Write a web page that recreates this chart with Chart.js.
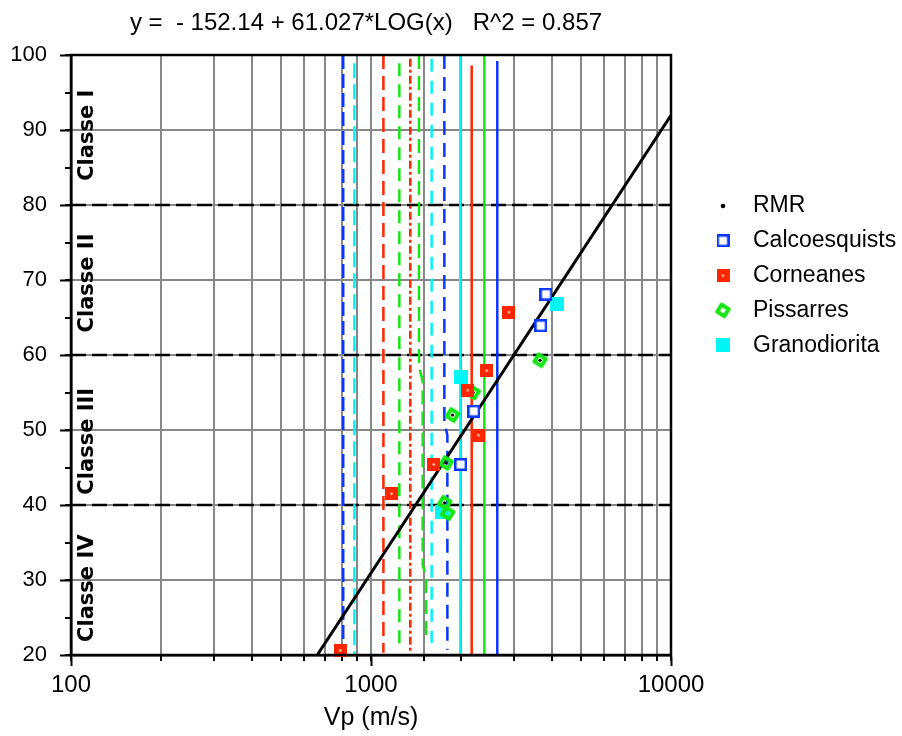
<!DOCTYPE html>
<html>
<head>
<meta charset="utf-8">
<title>Vp - RMR</title>
<script src="https://cdn.jsdelivr.net/npm/chart.js@4.4.1/dist/chart.umd.min.js"></script>
<style>
  html, body { margin: 0; padding: 0; background: #fff; }
  #wrap { width: 902px; height: 736px; }
</style>
</head>
<body>
<div id="wrap"><canvas id="myChart" width="902" height="736"></canvas></div>
<script>
// Vp (m/s) and RMR for each rock type
var calcoVp = [3830, 3680, 2200, 1990];
var calcoRmr = [68.1, 63.9, 52.5, 45.4];
var cornVp = [2880, 2430, 2100, 2280, 1620, 1170, 790];
var cornRmr = [65.7, 57.9, 55.3, 49.3, 45.4, 41.5, 20.6];
var pissVp = [3660, 2190, 1870, 1780, 1760, 1800];
var pissRmr = [59.3, 55.0, 52.0, 45.6, 40.3, 38.9];
var granVp = [4160, 1990, 1720];
var granRmr = [66.8, 57.1, 39.1];

// fitted line  y = -152.14 + 61.027*LOG(x)
var fitVp = [662, 10000];
var fitRmr = [20, 91.97];

// RMR class limits and names
var classLimits = [40, 60, 80];
var classNames = ['Classe I', 'Classe II', 'Classe III', 'Classe IV'];
var classMid = [89.3, 69.6, 48.5, 28.9];

// Vp limit lines (each one is a short polyline)
var limitVp = [
  [808, 808], [880, 880], [1100, 1100], [1243, 1243], [1352, 1352],
  [1445, 1445, 1487, 1487, 1526, 1526], [1593, 1593],
  [1756, 1756, 1797, 1797], [1985, 1985], [2166, 2166], [2387, 2387], [2636, 2636]
];
var limitRmr = [
  [100, 20], [98.9, 20], [100, 20.3], [98.9, 20.5], [99.5, 20.5],
  [100, 58.5, 56.5, 32, 30.5, 21.8], [99.5, 21.6],
  [100, 51, 49.3, 20.7], [100, 20], [98.6, 20], [100, 20], [99.2, 20]
];

var xMajor = [100, 1000, 10000];
var yMin = 20, yMax = 100;

var BLUE = '#0a36ff', RED = '#ff2600', GREEN = '#14e614', CYAN = '#00f5f5', GRAY = '#888888';

var limitColor = [BLUE, CYAN, RED, GREEN, RED, GREEN, CYAN, BLUE, CYAN, RED, GREEN, BLUE];
var limitDash = [[14, 5], [15, 6], [14, 7], [13, 8], [8, 3, 3, 3], [14, 7], [13, 9], [14, 8], [], [], [], []];

// marker pictures
function makeCanvas(w, h) {
  var c = document.createElement('canvas');
  c.width = w; c.height = h;
  return c;
}

var blueMark = makeCanvas(13, 13);
(function () {
  var g = blueMark.getContext('2d');
  g.fillStyle = '#fff'; g.fillRect(0, 0, 13, 13);
  g.strokeStyle = BLUE; g.lineWidth = 2.5; g.strokeRect(1.25, 1.25, 10.5, 10.5);
})();

var redMark = makeCanvas(13, 13);
(function () {
  var g = redMark.getContext('2d');
  g.fillStyle = RED; g.fillRect(0, 0, 13, 13);
  g.fillStyle = '#fff'; g.fillRect(5.5, 5.5, 2, 2);
})();

var cyanMark = makeCanvas(14, 14);
(function () {
  var g = cyanMark.getContext('2d');
  g.fillStyle = CYAN; g.fillRect(0, 0, 14, 14);
})();

var greenMark = makeCanvas(17, 17);
(function () {
  var g = greenMark.getContext('2d');
  g.translate(8.5, 8.5); g.rotate(0.55);
  g.strokeStyle = GREEN; g.lineWidth = 4; g.lineJoin = 'round';
  g.strokeRect(-4.2, -4.2, 8.4, 8.4);
})();

function pts(xs, ys) {
  return xs.map(function (x, i) { return { x: x, y: ys[i] }; });
}

var datasets = [
  { label: 'Calcoesquists', data: pts(calcoVp, calcoRmr), pointStyle: blueMark, pointRadius: 6, order: 1, clip: false },
  { label: 'Corneanes', data: pts(cornVp, cornRmr), pointStyle: redMark, pointRadius: 6, order: 1, clip: false },
  { label: 'Pissarres', data: pts(pissVp, pissRmr), pointStyle: greenMark, pointRadius: 6, order: 1, clip: false },
  { label: 'Granodiorita', data: pts(granVp, granRmr), pointStyle: cyanMark, pointRadius: 6, order: 1, clip: false },
  {
    label: 'RMR',
    data: pts(calcoVp.concat(cornVp, pissVp, granVp), calcoRmr.concat(cornRmr, pissRmr, granRmr)),
    pointStyle: 'circle', pointRadius: 1.6, backgroundColor: '#000', borderWidth: 0, order: 2, clip: false
  },
  {
    label: 'fit', data: pts(fitVp, fitRmr), showLine: true, borderColor: '#000', borderWidth: 3,
    pointRadius: 0, order: 3
  }
];

limitVp.forEach(function (xs, i) {
  datasets.push({
    label: 'limit' + i, data: pts(xs, limitRmr[i]), showLine: true,
    borderColor: limitColor[i], borderWidth: 2.5, borderDash: limitDash[i], pointRadius: 0, order: 4
  });
});

classLimits.forEach(function (v) {
  datasets.push({
    label: 'class' + v, data: pts([xMajor[0], xMajor[2]], [v, v]), showLine: true,
    borderColor: '#000', borderWidth: 2.5, borderDash: [15, 6], pointRadius: 0, order: 5
  });
});

var legendItems = [
  { text: 'RMR', mark: null },
  { text: 'Calcoesquists', mark: blueMark },
  { text: 'Corneanes', mark: redMark },
  { text: 'Pissarres', mark: greenMark },
  { text: 'Granodiorita', mark: cyanMark }
];

var decor = {
  id: 'decor',
  afterDraw: function (chart) {
    var c = chart.ctx, a = chart.chartArea, ys = chart.scales.y;
    c.save();
    // frame
    c.strokeStyle = '#000'; c.lineWidth = 2.5;
    c.strokeRect(a.left, a.top, a.right - a.left, a.bottom - a.top);

    // equation on top
    c.fillStyle = '#000';
    c.font = '24px "Liberation Sans", Arial, sans-serif';
    c.textAlign = 'center'; c.textBaseline = 'middle';
    c.fillText('y =  - 152.14 + 61.027*LOG(x)   R^2 = 0.857', 366, 23);

    // class names
    c.font = 'bold 21px "DejaVu Sans", sans-serif';
    classNames.forEach(function (t, i) {
      c.save();
      c.translate(a.left + 17, ys.getPixelForValue(classMid[i]));
      c.rotate(-Math.PI / 2);
      c.fillText(t, 0, 0);
      c.restore();
    });

    // legend
    c.font = '23px "Liberation Sans", Arial, sans-serif';
    c.textAlign = 'left';
    legendItems.forEach(function (it, i) {
      var y = 206 + i * 34.8;
      if (it.mark) {
        c.drawImage(it.mark, 723 - it.mark.width / 2, y - it.mark.height / 2);
      } else {
        c.beginPath(); c.arc(723, y, 2.3, 0, Math.PI * 2); c.fill();
      }
      c.fillText(it.text, 753, y);
    });
    c.restore();
  }
};

var ctx = document.getElementById('myChart').getContext('2d');
Chart.defaults.font.family = '"Liberation Sans", Arial, sans-serif';
Chart.defaults.color = '#000';

var myChart = new Chart(ctx, {
  type: 'scatter',
  data: { datasets: datasets },
  options: {
    responsive: false,
    animation: false,
    layout: { padding: { top: 55, right: 231, bottom: 0, left: 0 } },
    plugins: { legend: { display: false }, tooltip: { enabled: false } },
    scales: {
      x: {
        type: 'logarithmic', position: 'bottom', weight: 1, min: xMajor[0], max: xMajor[2],
        afterBuildTicks: function (s) { s.ticks = xMajor.map(function (v) { return { value: v, major: true }; }); },
        afterFit: function (s) { s.height = 81; },
        grid: { drawOnChartArea: false, tickLength: 11, tickWidth: 2, tickColor: '#000' },
        border: { color: '#000', width: 2.5 },
        ticks: { autoSkip: false, maxRotation: 0, padding: 5, color: '#000', font: { size: 24 },
          callback: function (v) { return String(v); } },
        title: { display: true, text: 'Vp (m/s)', color: '#000', font: { size: 25 }, padding: { top: 3, bottom: 3 } }
      },
      xMinor: {
        type: 'logarithmic', position: 'bottom', weight: 0, min: xMajor[0], max: xMajor[2],
        afterFit: function (s) { s.height = 0; },
        grid: { color: GRAY, lineWidth: 2, tickLength: 6, tickWidth: 2, tickColor: '#000' },
        border: { display: false },
        ticks: { display: false, autoSkip: false }
      },
      y: {
        type: 'linear', position: 'left', weight: 1, min: yMin, max: yMax,
        afterFit: function (s) { s.width = 71; },
        grid: { drawOnChartArea: false, tickLength: 11, tickWidth: 2, tickColor: '#000' },
        border: { color: '#000', width: 2.5 },
        ticks: { stepSize: 10, padding: 13, color: '#000', font: { size: 22 } }
      },
      yMinor: {
        type: 'linear', position: 'left', weight: 0, min: yMin, max: yMax,
        afterFit: function (s) { s.width = 0; },
        grid: {
          lineWidth: 2, tickLength: 6, tickWidth: 2, tickColor: '#000',
          color: function (c) { return c.tick && c.tick.value % 10 === 0 ? GRAY : 'rgba(0,0,0,0)'; }
        },
        border: { display: false },
        ticks: { display: false, stepSize: 5 }
      }
    }
  },
  plugins: [decor]
});
</script>
</body>
</html>
